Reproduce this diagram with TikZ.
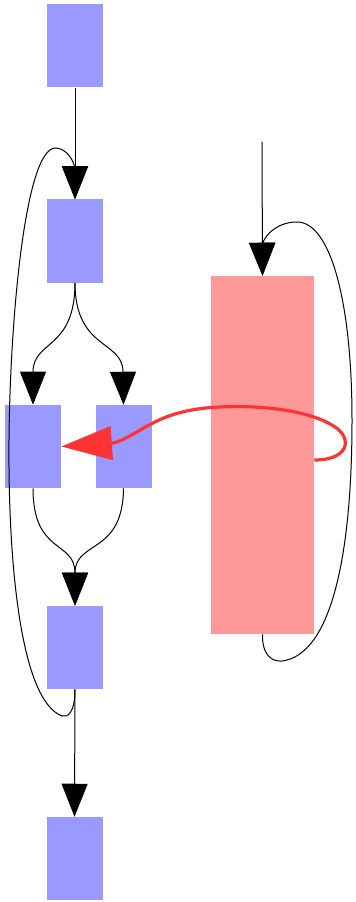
\documentclass[tikz,border=0pt]{standalone}
\usetikzlibrary{arrows.meta}
\definecolor{boxblue}{HTML}{9999FF}
\definecolor{boxpink}{HTML}{FF9999}
\definecolor{linkred}{HTML}{FF3333}
\tikzset{
  bluebox/.style={rectangle, fill=boxblue, draw=none, inner sep=0pt,
    minimum width=42pt, minimum height=62.25pt},
  pinkbox/.style={rectangle, fill=boxpink, draw=none, inner sep=0pt,
    minimum width=77.25pt, minimum height=268.5pt},
  edge/.style={draw=black, line width=0.75pt,
    -{Triangle[length=24.75pt,width=19.5pt]}},
  plain/.style={draw=black, line width=0.75pt},
  redlink/.style={draw=linkred, line width=2.4pt,
    -{Triangle[length=38pt,width=25pt]}},
}
\begin{document}
\begin{tikzpicture}[x=0.75pt, y=-0.75pt]
\useasboundingbox (0,0) rectangle (355,902);

% boxes
\node[bluebox] (a) at (75,46) {};
\node[bluebox] (b) at (75,241) {};
\node[bluebox] (c) at (33,446.5) {};
\node[bluebox] (d) at (123.5,446.5) {};
\node[bluebox] (e) at (75,647.5) {};
\node[bluebox] (f) at (74.5,858.5) {};
\node[pinkbox] (p) at (262.5,455) {};
\coordinate (src) at (262,142);

% straight links
\draw[edge] (a.south) -- (b.north);
\draw[edge] (e.south) -- (f.north);
\draw[edge] (src) -- (p.north);

% fork and join
\draw[edge] (b.south) .. controls (75,350) and (33,340) .. (33,372) -- (c.north);
\draw[edge] (b.south) .. controls (75,350) and (123,340) .. (123,372) -- (d.north);
\draw[edge] (c.south) .. controls (33,555) and (75,540) .. (75,573) -- (e.north);
\draw[edge] (d.south) .. controls (123,555) and (75,540) .. (75,573) -- (e.north);

% long back loop from e to b
\draw[edge] (e.south) .. controls (75,712) and (68,718) .. (62,716)
  .. controls (20,700) and (8,560) .. (9,440)
  .. controls (10,320) and (25,150) .. (55,148)
  .. controls (64,148) and (72,156) .. (75,168) -- (b.north);

% self loop on the tall box
\draw[edge] (p.south) .. controls (262,655) and (272,662) .. (282,661)
  .. controls (330,655) and (352,560) .. (352,420)
  .. controls (352,300) and (330,222) .. (297,222)
  .. controls (280,222) and (266,232) .. (262,245) -- (p.north);

% red link from the tall box to c
\draw[redlink] ([yshift=-3.75pt]p.east) .. controls (350,460) and (352,438) .. (335,427)
  .. controls (310,410) and (260,405) .. (220,407)
  .. controls (170,409) and (150,425) .. (135,433)
  .. controls (125,439) and (118,442) .. (113,443) -- (c.east);
\end{tikzpicture}
\end{document}
